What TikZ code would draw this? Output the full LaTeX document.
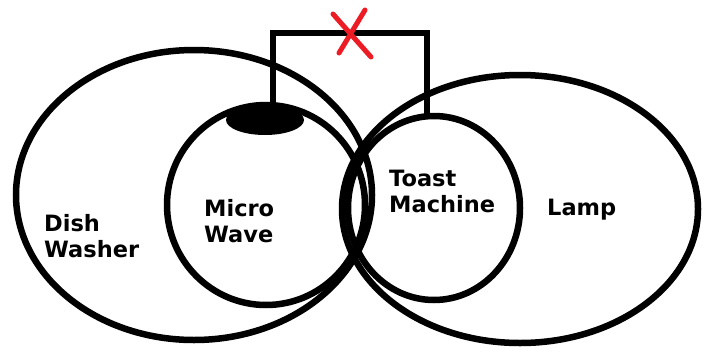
\documentclass[tikz,border=0pt]{standalone}
\usepackage{fontspec}
\setmainfont{DejaVu Sans}
\usetikzlibrary{shapes.geometric}
\definecolor{xred}{RGB}{237,28,36}
\tikzset{
  ring/.style={draw=black, line width=6.5pt, ellipse, inner sep=0pt, outer sep=0pt},
  wire/.style={draw=black, line width=6.5pt},
  cross/.style={draw=xred, line width=5pt, line cap=round},
  lbl/.style={anchor=base west, inner sep=0pt, align=left, text=black,
              font=\bfseries\fontsize{22.5}{26}\selectfont}
}
\begin{document}
\begin{tikzpicture}[x=1pt,y=-1pt]
\useasboundingbox (0,0) rectangle (712,351);
\node[ring, minimum width=356pt, minimum height=290pt] (dish) at (194,195) {};
\node[ring, minimum width=198pt, minimum height=200pt] (micro) at (266,205) {};
\node[ring, minimum width=172pt, minimum height=184pt] (toast) at (434,208) {};
\node[ring, minimum width=356pt, minimum height=268pt] (lamp) at (520,209) {};
\node[ellipse, fill=black, inner sep=0pt, minimum width=78pt, minimum height=30pt] (blob) at (265,120) {};
\coordinate (wa) at (273,110);
\coordinate (wb) at (273,33);
\coordinate (wc) at (427,33);
\coordinate (wd) at (427,117);
\draw[wire] (wa) -- (wb) -- (wc) -- (wd);
\coordinate (x1) at (333,14);
\coordinate (x2) at (371,57);
\coordinate (x3) at (365,10);
\coordinate (x4) at (339,53);
\draw[cross] (x1) -- (x2);
\draw[cross] (x3) -- (x4);
\node[lbl] (tdish) at (44,257) {Dish\\Washer};
\node[lbl] (tmicro) at (204,242) {Micro\\Wave};
\node[lbl] (ttoast) at (389,212) {Toast\\Machine};
\node[lbl] (tlamp) at (547,215) {Lamp};
\end{tikzpicture}
\end{document}
